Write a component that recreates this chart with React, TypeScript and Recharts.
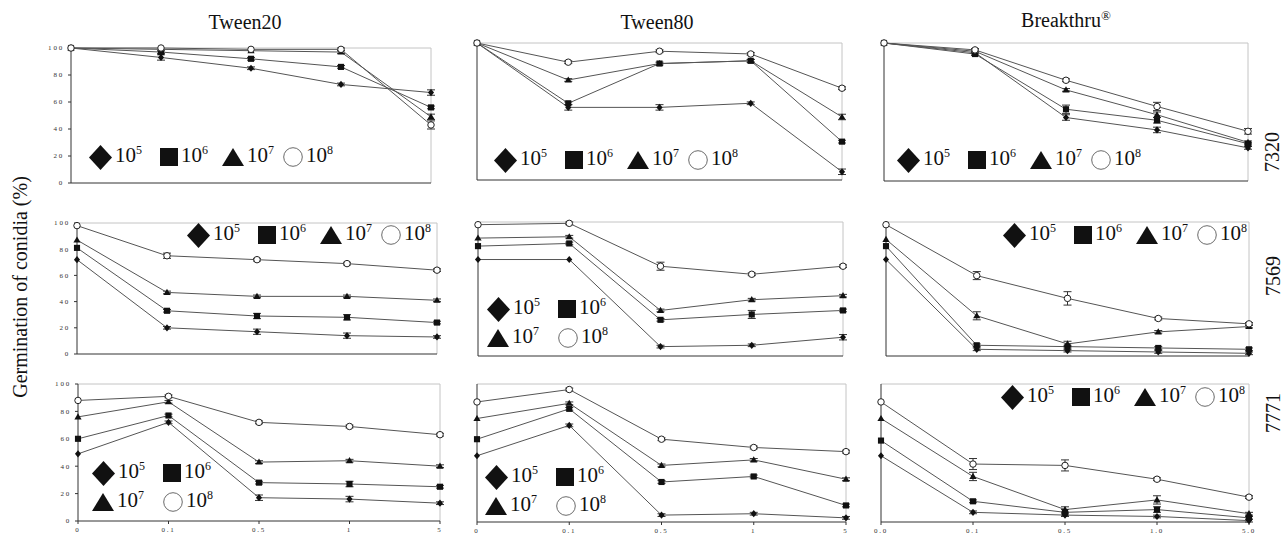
import { LineChart, Line, XAxis, YAxis, ErrorBar, ReferenceLine } from 'recharts'

const doses = ['0', '0.1', '0.5', '1', '5']
const dosesBreakthru = ['0.0', '0.1', '0.5', '1.0', '5.0']
const densityExp = ['5', '6', '7', '8']
const yTicks = [0, 20, 40, 60, 80, 100]

// germination (%) rows: 10^5, 10^6, 10^7, 10^8 conidia
const tween20_7320 = [
  [100, 93, 85, 73, 67],
  [100, 97, 92, 86, 56],
  [100, 99, 98, 97, 49],
  [100, 100, 99, 99, 43],
]
const tween80_7320 = [
  [100, 53, 53, 56, 6],
  [100, 56, 85, 87, 28],
  [100, 73, 85, 87, 46],
  [100, 86, 94, 92, 67],
]
const breakthru_7320 = [
  [100, 93, 46, 37, 24],
  [100, 92, 52, 44, 27],
  [100, 94, 66, 48, 28],
  [100, 95, 73, 54, 36],
]
const tween20_7569 = [
  [72, 20, 17, 14, 13],
  [81, 33, 29, 28, 24],
  [87, 47, 44, 44, 41],
  [98, 75, 72, 69, 64],
]
const tween80_7569 = [
  [72, 72, 7, 8, 14],
  [82, 84, 27, 31, 34],
  [88, 89, 34, 42, 45],
  [98, 99, 67, 61, 67],
]
const breakthru_7569 = [
  [72, 5, 4, 3, 2],
  [82, 8, 7, 6, 5],
  [87, 30, 9, 18, 22],
  [98, 60, 43, 28, 24],
]
const tween20_7771 = [
  [49, 72, 17, 16, 13],
  [60, 77, 28, 27, 25],
  [76, 87, 43, 44, 40],
  [88, 91, 72, 69, 63],
]
const tween80_7771 = [
  [48, 70, 5, 6, 3],
  [60, 82, 29, 33, 12],
  [75, 86, 41, 45, 31],
  [87, 96, 60, 54, 51],
]
const breakthru_7771 = [
  [48, 7, 5, 4, 1],
  [59, 15, 7, 9, 3],
  [75, 33, 9, 16, 6],
  [87, 42, 41, 31, 18],
]

// standard errors (0 = not drawn)
const tween20_7320_err = [
  [0, 2, 1, 1, 2],
  [0, 1, 1, 1, 1],
  [0, 0, 0, 1, 2],
  [0, 0, 0, 1, 3],
]
const tween80_7320_err = [
  [0, 2, 2, 1, 2],
  [0, 1, 1, 1, 1],
  [0, 1, 0, 1, 2],
  [0, 1, 1, 1, 1],
]
const breakthru_7320_err = [
  [0, 1, 2, 2, 1],
  [0, 1, 3, 2, 1],
  [0, 1, 1, 2, 1],
  [0, 1, 1, 3, 2],
]
const tween20_7569_err = [
  [0, 1, 2, 2, 1],
  [0, 1, 2, 2, 1],
  [0, 1, 1, 1, 1],
  [0, 2, 1, 1, 1],
]
const tween80_7569_err = [
  [0, 0, 1, 1, 2],
  [0, 1, 1, 3, 1],
  [0, 1, 1, 1, 1],
  [0, 1, 3, 1, 1],
]
const breakthru_7569_err = [
  [0, 1, 1, 1, 1],
  [0, 1, 1, 1, 1],
  [0, 3, 2, 1, 1],
  [0, 3, 5, 1, 1],
]
const tween20_7771_err = [
  [0, 1, 2, 2, 1],
  [0, 1, 1, 2, 1],
  [0, 1, 1, 1, 1],
  [0, 1, 1, 1, 1],
]
const tween80_7771_err = [
  [0, 1, 1, 1, 1],
  [0, 1, 1, 1, 1],
  [0, 1, 1, 1, 1],
  [0, 1, 1, 1, 1],
]
const breakthru_7771_err = [
  [0, 1, 1, 1, 1],
  [0, 1, 2, 2, 1],
  [0, 3, 2, 3, 1],
  [0, 4, 4, 1, 1],
]

const shapes = ['diamond', 'square', 'triangle', 'circle']

type LegendKind = 'row' | 'grid'

const panels = [
  { vals: tween20_7320, errs: tween20_7320_err, cats: doses, box: [71, 48, 431, 183], legend: { kind: 'row' as LegendKind, x: 89, y: 157 } },
  { vals: tween80_7320, errs: tween80_7320_err, cats: doses, box: [477, 43, 842, 180], legend: { kind: 'row' as LegendKind, x: 494, y: 160 } },
  { vals: breakthru_7320, errs: breakthru_7320_err, cats: dosesBreakthru, box: [884, 43, 1248, 181], legend: { kind: 'row' as LegendKind, x: 897, y: 160 } },
  { vals: tween20_7569, errs: tween20_7569_err, cats: doses, box: [77, 223, 437, 354], legend: { kind: 'row' as LegendKind, x: 187, y: 235 } },
  { vals: tween80_7569, errs: tween80_7569_err, cats: doses, box: [478, 222, 843, 356], legend: { kind: 'grid' as LegendKind, x: 487, y: 309 } },
  { vals: breakthru_7569, errs: breakthru_7569_err, cats: dosesBreakthru, box: [886, 222, 1249, 356], legend: { kind: 'row' as LegendKind, x: 1003, y: 235 } },
  { vals: tween20_7771, errs: tween20_7771_err, cats: doses, box: [78, 384, 440, 521], legend: { kind: 'grid' as LegendKind, x: 92, y: 473 } },
  { vals: tween80_7771, errs: tween80_7771_err, cats: doses, box: [477, 384, 846, 522], legend: { kind: 'grid' as LegendKind, x: 485, y: 477 } },
  { vals: breakthru_7771, errs: breakthru_7771_err, cats: dosesBreakthru, box: [881, 384, 1249, 522], legend: { kind: 'row' as LegendKind, x: 1001, y: 397 } },
]

function Marker({ shape, cx, cy, s }: { shape: string; cx: number; cy: number; s: number }) {
  if (cx == null || cy == null) return null
  if (shape === 'diamond')
    return <polygon points={`${cx},${cy - s} ${cx + s * 0.85},${cy} ${cx},${cy + s} ${cx - s * 0.85},${cy}`} fill="#111" />
  if (shape === 'square')
    return <rect x={cx - s * 0.85} y={cy - s * 0.85} width={s * 1.7} height={s * 1.7} fill="#111" />
  if (shape === 'triangle')
    return <polygon points={`${cx},${cy - s} ${cx + s},${cy + s * 0.7} ${cx - s},${cy + s * 0.7}`} fill="#111" />
  return <circle cx={cx} cy={cy} r={s * 0.9} fill="#fff" stroke="#222" strokeWidth={1} />
}

function LegendMark({ shape }: { shape: string }) {
  const dims: Record<string, [number, number]> = { diamond: [23, 25], square: [18, 18], triangle: [22, 18], circle: [20, 20] }
  const [w, h] = dims[shape]
  let el
  if (shape === 'diamond') el = <polygon points={`${w / 2},0 ${w},${h / 2} ${w / 2},${h} 0,${h / 2}`} fill="#111" />
  else if (shape === 'square') el = <rect x={0} y={0} width={w} height={h} fill="#111" />
  else if (shape === 'triangle') el = <polygon points={`${w / 2},0 ${w},${h} 0,${h}`} fill="#111" />
  else el = <circle cx={10} cy={10} r={9.3} fill="#fff" stroke="#444" strokeWidth={0.8} />
  return (
    <svg width={w} height={h} style={{ display: 'block' }}>
      {el}
    </svg>
  )
}

function LegendItem({ i, width }: { i: number; width: number }) {
  return (
    <div style={{ display: 'flex', alignItems: 'center', width, height: 26 }}>
      <LegendMark shape={shapes[i]} />
      <span style={{ fontSize: 21, lineHeight: '21px', marginLeft: 3, color: '#111' }}>
        10<sup style={{ fontSize: 12, verticalAlign: 0, position: 'relative', top: -8 }}>{densityExp[i]}</sup>
      </span>
    </div>
  )
}

function PanelLegend({ kind, x, y }: { kind: LegendKind; x: number; y: number }) {
  const rowWidths = [71, 62, 61, 60]
  if (kind === 'row') {
    return (
      <div style={{ position: 'absolute', left: x, top: y - 13, display: 'flex' }}>
        {shapes.map((_, i) => (
          <LegendItem key={i} i={i} width={rowWidths[i]} />
        ))}
      </div>
    )
  }
  return (
    <div style={{ position: 'absolute', left: x, top: y - 13 }}>
      <div style={{ display: 'flex', marginBottom: 3 }}>
        <LegendItem i={0} width={71} />
        <LegendItem i={1} width={71} />
      </div>
      <div style={{ display: 'flex' }}>
        <LegendItem i={2} width={71} />
        <LegendItem i={3} width={71} />
      </div>
    </div>
  )
}

const Y_W = 30
const M_TOP = 6
const M_RIGHT = 8
const X_H = 18

function Panel({ idx }: { idx: number }) {
  const p = panels[idx]
  const col = idx % 3
  const row = Math.floor(idx / 3)
  const [x0, y0, x1, y1] = p.box
  const data = p.cats.map((c, j) => {
    const d: Record<string, string | number> = { x: c }
    p.vals.forEach((s, k) => {
      d[`s${k}`] = s[j]
      d[`e${k}`] = p.errs[k][j]
    })
    return d
  })
  const tickStyle = { fontSize: 7, fill: '#333', letterSpacing: 1.8, fontFamily: '"Liberation Serif", serif' }
  return (
    <div style={{ position: 'absolute', left: x0 - Y_W, top: y0 - M_TOP }}>
      <LineChart
        width={x1 - x0 + Y_W + M_RIGHT}
        height={y1 - y0 + M_TOP + X_H}
        data={data}
        margin={{ top: M_TOP, right: M_RIGHT, left: 0, bottom: 0 }}
      >
        <XAxis
          dataKey="x"
          height={X_H}
          axisLine={{ stroke: '#333' }}
          tickLine={{ stroke: '#333' }}
          tickSize={3}
          tick={row === 2 ? tickStyle : false}
          tickMargin={3}
          interval={0}
        />
        <YAxis
          type="number"
          domain={[0, 100]}
          ticks={yTicks}
          width={Y_W}
          axisLine={{ stroke: '#333' }}
          tickLine={col === 0 ? { stroke: '#333' } : false}
          tickSize={3}
          tick={col === 0 ? tickStyle : false}
          tickMargin={4}
          interval={0}
        />
        <ReferenceLine y={100} stroke="#c4c4c4" strokeWidth={1} />
        <ReferenceLine x={p.cats[p.cats.length - 1]} stroke="#c4c4c4" strokeWidth={1} />
        {p.vals.map((_, k) => (
          <Line
            key={k}
            dataKey={`s${k}`}
            stroke="#555"
            strokeWidth={1}
            isAnimationActive={false}
            dot={(d: any) => (
              <g key={`d${k}-${d.index}`}>
                <Marker shape={shapes[k]} cx={d.cx} cy={d.cy} s={3.6} />
              </g>
            )}
            activeDot={false}
          >
            <ErrorBar dataKey={`e${k}`} width={4} stroke="#333" strokeWidth={1} direction="y" isAnimationActive={false} />
          </Line>
        ))}
      </LineChart>
      <div />
    </div>
  )
}

const headerStyle: React.CSSProperties = {
  position: 'absolute',
  transform: 'translate(-50%, -50%)',
  fontSize: 20,
  whiteSpace: 'nowrap',
  color: '#111',
}

function Rotated({ x, y, text, size = 20 }: { x: number; y: number; text: string; size?: number }) {
  return (
    <div style={{ ...headerStyle, left: x, top: y, fontSize: size, transform: 'translate(-50%, -50%) rotate(-90deg)' }}>
      {text}
    </div>
  )
}

export default function App() {
  return (
    <div
      style={{
        position: 'absolute',
        left: 0,
        top: 0,
        width: 1284,
        height: 537,
        background: '#fff',
        fontFamily: '"Liberation Serif", "Times New Roman", serif',
        overflow: 'hidden',
      }}
    >
      <div style={{ ...headerStyle, left: 245, top: 22 }}>Tween20</div>
      <div style={{ ...headerStyle, left: 657, top: 22 }}>Tween80</div>
      <div style={{ ...headerStyle, left: 1066, top: 20 }}>
        Breakthru<sup style={{ fontSize: 13 }}>®</sup>
      </div>
      <Rotated x={20} y={287} text="Germination of conidia (%)" />
      <Rotated x={1272} y={152} text="7320" />
      <Rotated x={1273} y={276} text="7569" />
      <Rotated x={1273} y={413} text="7771" />
      {panels.map((_, i) => (
        <Panel key={i} idx={i} />
      ))}
      {panels.map((p, i) => (
        <PanelLegend key={`l${i}`} kind={p.legend.kind} x={p.legend.x} y={p.legend.y} />
      ))}
    </div>
  )
}
